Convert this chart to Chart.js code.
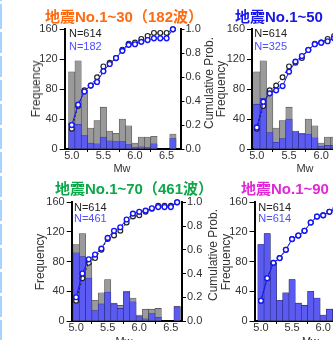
<!DOCTYPE html>
<html>
<head>
<meta charset="utf-8">
<script src="https://cdn.jsdelivr.net/npm/chart.js@4"></script>
<style>
  html, body { margin: 0; padding: 0; background: #fff; }
  body {
    width: 333px; height: 340px; overflow: hidden; position: relative;
    font-family: "Liberation Sans", Arial, "Noto Sans CJK JP", sans-serif;
  }
  .edge {
    position: absolute; left: 0; top: 0; width: 2px; height: 340px;
    background: repeating-linear-gradient(to bottom, #a6d3ff 0 21px, transparent 21px 24px);
    background-position: 0 8px;
  }
  canvas { position: absolute; }
  .t { position: absolute; white-space: nowrap; }
  .title { font-weight: bold; font-size: 15px; line-height: 15px; }
  .n { font-size: 11px; line-height: 11px; }
  .ax { font-size: 12px; line-height: 12px; color: #333; transform: translate(-50%, -50%) rotate(-90deg); }
  .mw { font-size: 11px; line-height: 11px; color: #333; transform: translate(-50%, -50%); }
</style>
</head>
<body>
<div class="edge"></div>
<script>
// magnitude bins (bin centres, width 0.1)
const BINS = [5.0, 5.1, 5.2, 5.3, 5.4, 5.5, 5.6, 5.7, 5.8, 5.9, 6.0, 6.1, 6.2, 6.3, 6.4, 6.5, 6.6];
const X_TICKS = [5.0, 5.5, 6.0, 6.5];

// all 614 records
const ALL_FREQ = [103, 118, 78, 28, 38, 56, 24, 21, 40, 31, 8, 16, 16, 17, 0, 0, 20];
const ALL_CUM  = [0.17, 0.36, 0.49, 0.53, 0.60, 0.69, 0.72, 0.76, 0.83, 0.88, 0.89, 0.92, 0.945, 0.97, 0.97, 0.97, 1.0];

// subsets
const SUB30_FREQ = [35, 33, 18, 8, 7, 16, 11, 10, 10, 6, 2, 3, 2, 7, 0, 0, 14];
const SUB30_CUM  = [0.20, 0.37, 0.48, 0.53, 0.56, 0.65, 0.71, 0.76, 0.82, 0.87, 0.875, 0.895, 0.91, 0.925, 0.925, 0.925, 1.0];
const SUB50_FREQ = [60, 68, 22, 9, 14, 40, 23, 20, 20, 15, 4, 5, 5, 6, 0, 0, 14];
const SUB50_CUM  = [0.18, 0.395, 0.465, 0.49, 0.526, 0.646, 0.73, 0.777, 0.827, 0.875, 0.888, 0.90, 0.925, 0.94, 0.94, 0.94, 1.0];
const SUB70_FREQ = [92, 87, 58, 14, 23, 39, 23, 17, 39, 26, 6, 3, 10, 5, 0, 0, 19];
const SUB70_CUM  = [0.20, 0.40, 0.52, 0.56, 0.61, 0.70, 0.76, 0.79, 0.855, 0.905, 0.92, 0.93, 0.95, 0.96, 0.96, 0.96, 1.0];
const SUB90_FREQ = ALL_FREQ;
const SUB90_CUM  = ALL_CUM;

const TITLES = ["地震No.1~30（182波）", "地震No.1~50（325波）", "地震No.1~70（461波）", "地震No.1~90（614波）"];
const TITLE_COLORS = ["#ff6a10", "#1717e6", "#0ca848", "#e028d6"];
const N_ALL = 614;
const N_SUB = [182, 325, 461, 614];

// plot boxes on the page
const PANELS = [
  { left: 64.7, right: 180.5, top: 29.3, bottom: 149, xMin: 4.888, xMax: 6.72, freq: SUB30_FREQ, cum: SUB30_CUM,
    titleX: 45, titleY: 9, nX: 69, nY: [28, 40.5], freqLbl: [35.8, 89], cumLbl: [208.5, 82.5], mw: [122, 168] },
  { left: 252, right: 365, top: 29.3, bottom: 149, xMin: 4.925, xMax: 6.68, freq: SUB50_FREQ, cum: SUB50_CUM,
    titleX: 235, titleY: 9, nX: 254.3, nY: [28, 40.5], freqLbl: [221, 89], cumLbl: [393, 82.5], mw: [305, 168] },
  { left: 71.7, right: 182, top: 202.3, bottom: 321, xMin: 4.93, xMax: 6.677, freq: SUB70_FREQ, cum: SUB70_CUM,
    titleX: 55, titleY: 181, nX: 74, nY: [201.7, 213], freqLbl: [40, 261.5], cumLbl: [213, 255], mw: [124, 340.5] },
  { left: 254.5, right: 368, top: 202.3, bottom: 321, xMin: 4.896, xMax: 6.72, freq: SUB90_FREQ, cum: SUB90_CUM,
    titleX: 241, titleY: 181, nX: 258.3, nY: [202, 213.3], freqLbl: [225.5, 261.5], cumLbl: [396, 255], mw: [310.5, 340.5] }
];

const TICK_FONT = { family: "'Liberation Sans', Arial, sans-serif", size: 11 };
const TICK_COLOR = "#333";

function pts(xs, ys) {
  return xs.map((x, i) => ({ x, y: ys[i] }));
}

function addText(cls, text, x, y, color) {
  const d = document.createElement("div");
  d.className = "t " + cls;
  d.textContent = text;
  d.style.left = x + "px";
  d.style.top = y + "px";
  if (color) d.style.color = color;
  document.body.appendChild(d);
}

function makePanel(p, idx) {
  const cx = Math.floor(p.left) - 40;
  const cy = Math.floor(p.top) - 10;
  const W = Math.ceil(p.right) + 40 - cx;
  const H = Math.ceil(p.bottom) + 30 - cy;
  const yW = p.left - cx;
  const y2W = cx + W - p.right;
  const xH = cy + H - p.bottom;
  const padTop = p.top - cy;

  const canvas = document.createElement("canvas");
  canvas.width = W;
  canvas.height = H;
  canvas.style.left = cx + "px";
  canvas.style.top = cy + "px";
  canvas.style.width = W + "px";
  canvas.style.height = H + "px";
  document.body.appendChild(canvas);

  const tickGrid = { drawOnChartArea: false, tickColor: "#000", tickWidth: 1 };
  const axisBorder = { color: "#000", width: 2 };

  new Chart(canvas, {
    type: "bar",
    data: {
      datasets: [
        { type: "line", data: pts(BINS, p.cum), yAxisID: "y2", order: 0, clip: false,
          borderColor: "#1414ff", borderWidth: 1, pointRadius: 2.4, pointBorderWidth: 1.4,
          pointBackgroundColor: "#fff", pointBorderColor: "#1414ff" },
        { type: "line", data: pts(BINS, ALL_CUM), yAxisID: "y2", order: 1, clip: false,
          borderColor: "#222", borderWidth: 1, borderDash: [2, 2], pointRadius: 2.4, pointBorderWidth: 1.2,
          pointBackgroundColor: "#fff", pointBorderColor: "#222" },
        // subset drawn over the full set, same bins
        { data: pts(BINS, p.freq), order: 2, grouped: false, barPercentage: 1, categoryPercentage: 1,
          backgroundColor: "#5b5bf2", borderColor: "#2a2a80", borderWidth: 0.6 },
        { data: pts(BINS, ALL_FREQ), order: 3, grouped: false, barPercentage: 1, categoryPercentage: 1,
          backgroundColor: "#9a9a9a", borderColor: "#444", borderWidth: 0.6 }
      ]
    },
    options: {
      responsive: false,
      animation: false,
      events: [],
      layout: { padding: { top: padTop, left: 0, right: 0, bottom: 0 } },
      plugins: { legend: { display: false }, tooltip: { enabled: false } },
      scales: {
        x: {
          type: "linear", min: p.xMin, max: p.xMax, offset: false,
          afterFit: (s) => { s.height = xH; },
          afterBuildTicks: (s) => { s.ticks = X_TICKS.map((v) => ({ value: v })); },
          ticks: { callback: (v) => v.toFixed(1), font: TICK_FONT, color: TICK_COLOR, padding: -3, maxRotation: 0, autoSkip: false },
          grid: { ...tickGrid, tickLength: 3 },
          border: axisBorder
        },
        y: {
          position: "left", min: 0, max: 160,
          afterFit: (s) => { s.width = yW; },
          ticks: { stepSize: 40, font: TICK_FONT, color: TICK_COLOR, padding: 2 },
          grid: { ...tickGrid, tickLength: 5 },
          border: axisBorder
        },
        y2: {
          position: "right", min: 0, max: 1,
          afterFit: (s) => { s.width = y2W; },
          ticks: { stepSize: 0.2, callback: (v) => v.toFixed(1), font: TICK_FONT, color: TICK_COLOR, padding: 1 },
          grid: { ...tickGrid, tickLength: 4 },
          border: axisBorder
        }
      }
    }
  });

  addText("title", TITLES[idx], p.titleX, p.titleY, TITLE_COLORS[idx]);
  addText("n", "N=" + N_ALL, p.nX, p.nY[0], "#222");
  addText("n", "N=" + N_SUB[idx], p.nX, p.nY[1], "#4d4dff");
  addText("ax", "Frequency", p.freqLbl[0], p.freqLbl[1]);
  addText("ax", "Cumulative Prob.", p.cumLbl[0], p.cumLbl[1]);
  addText("mw", "Mw", p.mw[0], p.mw[1]);
}

PANELS.forEach(makePanel);
</script>
</body>
</html>
